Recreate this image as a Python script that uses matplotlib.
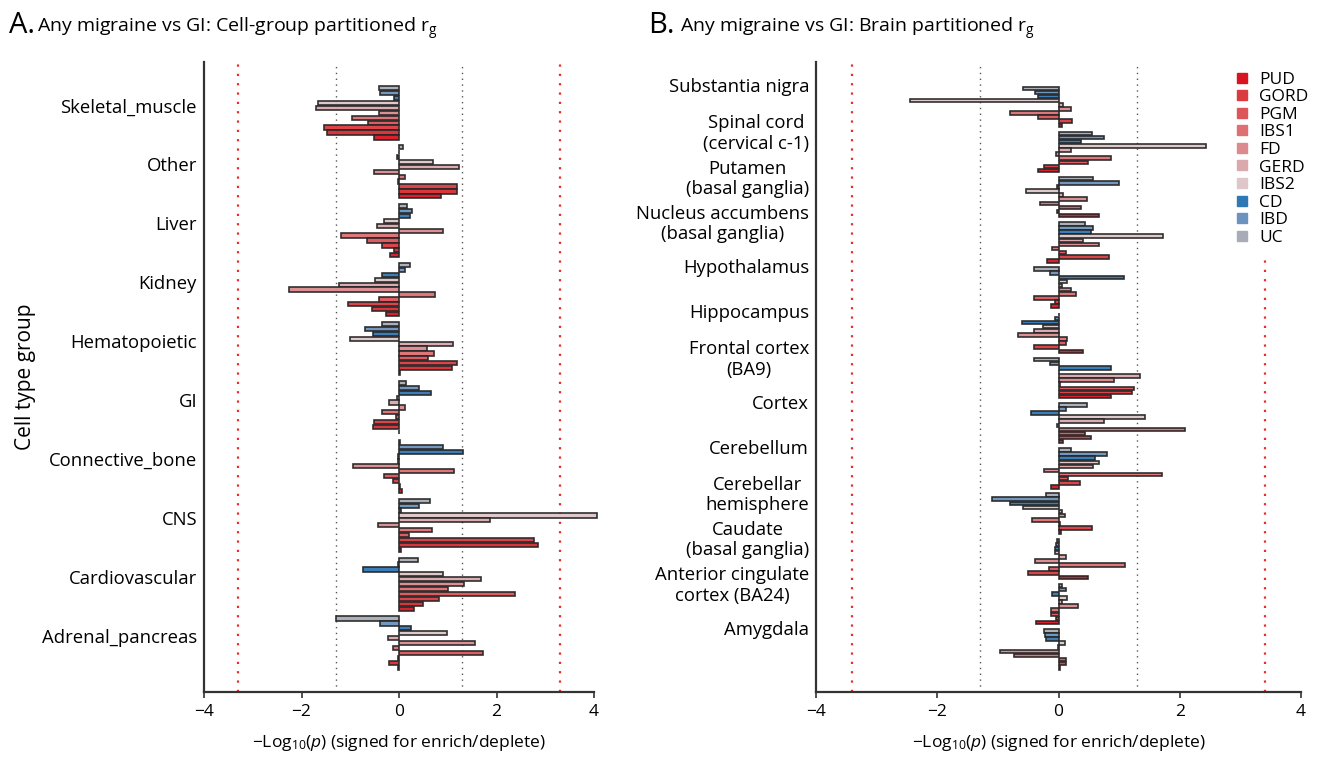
import matplotlib
matplotlib.use('Agg')
import matplotlib.pyplot as plt
from matplotlib.lines import Line2D
import numpy as np

plt.rcParams['font.family'] = ['Open Sans', 'DejaVu Sans']
plt.rcParams['mathtext.fontset'] = 'custom'
plt.rcParams['mathtext.rm'] = 'Open Sans'
plt.rcParams['mathtext.it'] = 'Open Sans:italic'

# ---- Panel A: cell-type groups (top to bottom) ----
groups_a = ['Skeletal_muscle', 'Other', 'Liver', 'Kidney', 'Hematopoietic', 'GI',
            'Connective_bone', 'CNS', 'Cardiovascular', 'Adrenal_pancreas']

a_uc   = [-0.41, 0.08, 0.17, 0.23, -0.35, 0.15, 0.02, 0.63, 0.38, -1.29]
a_ibd  = [-0.39, 0.01, 0.27, 0.12, -0.70, 0.40, 0.90, 0.41, -0.02, -0.39]
a_cd   = [-0.10, -0.05, 0.23, -0.34, -0.53, 0.66, 1.31, 0.05, -0.74, 0.24]
a_ibs2 = [-1.67, 0.69, -0.30, -0.49, -1.00, -0.05, -0.02, 4.07, 0.91, 0.98]
a_gerd = [-1.71, 1.24, -0.45, -1.24, 1.11, -0.21, -0.03, 1.86, 1.68, -0.23]
a_fd   = [-0.41, -0.51, 0.90, -2.26, 0.58, 0.13, -0.95, -0.44, 1.33, 1.55]
a_ibs1 = [-0.96, 0.12, -1.18, 0.73, 0.71, -0.35, 1.12, 0.67, 1.01, -0.12]
a_pgm  = [-0.64, -0.03, -0.66, -0.42, 0.59, -0.06, -0.30, 0.20, 2.37, 1.73]
a_gord = [-1.53, 1.18, -0.34, -1.05, 1.18, -0.51, -0.12, 2.76, 0.83, -0.03]
a_gord2 = [-1.48, 1.18, -0.10, -0.55, 1.08, -0.53, 0.03, 2.86, 0.50, -0.21]
a_pud  = [-0.51, 0.86, -0.19, -0.26, 0.02, 0.01, 0.06, 0.05, 0.31, -0.02]

# ---- Panel B: brain regions (top to bottom) ----
groups_b = ['Substantia nigra', 'Spinal cord\n(cervical c-1)', 'Putamen\n(basal ganglia)',
            'Nucleus accumbens\n(basal ganglia)', 'Hypothalamus', 'Hippocampus',
            'Frontal cortex\n(BA9)', 'Cortex', 'Cerebellum', 'Cerebellar\nhemisphere',
            'Caudate\n(basal ganglia)', 'Anterior cingulate\ncortex (BA24)', 'Amygdala']

b_uc   = [-0.58, 0.56, 0.57, 0.44, -0.41, 0.01, -0.41, 0.47, 0.20, -0.20, -0.02, 0.05, -0.24]
b_ibd  = [-0.38, 0.75, 0.99, 0.57, -0.14, -0.05, -0.14, 0.13, 0.80, -1.09, -0.04, 0.13, -0.22]
b_cd   = [-0.34, 0.37, -0.03, 0.53, 1.08, -0.61, 0.87, -0.46, 0.60, -0.80, -0.05, -0.10, -0.21]
b_ibs2 = [-2.45, 2.43, -0.54, 1.73, 0.14, -0.26, 0.01, 1.42, 0.67, -0.59, -0.06, 0.14, 0.11]
b_gerd = [0.08, 0.20, 0.08, 0.41, 0.05, -0.41, 1.34, 0.75, 0.57, 0.05, 0.12, 0.05, -0.01]
b_fd   = [0.20, -0.04, 0.47, 0.66, 0.20, -0.66, 0.91, -0.03, -0.24, 0.10, -0.38, 0.32, -0.96]
b_ibs1 = [-0.80, 0.87, -0.31, -0.10, 0.29, 0.14, 0.02, 2.08, 1.71, -0.43, 1.10, -0.12, -0.73]
b_pgm  = [-0.34, 0.48, 0.37, 0.12, -0.41, 0.13, 1.24, 0.43, 0.16, 0.02, -0.16, -0.12, 0.12]
b_gord = [0.22, -0.24, -0.02, 0.84, -0.06, -0.41, 1.22, 0.54, 0.35, 0.55, -0.50, -0.04, 0.13]
b_pud  = [0.05, -0.34, 0.67, -0.19, -0.13, 0.40, 0.86, 0.07, -0.13, 0.04, 0.49, -0.37, 0.03]

legend_names = ['PUD', 'GORD', 'PGM', 'IBS1', 'FD', 'GERD', 'IBS2', 'CD', 'IBD', 'UC']
colors = {'PUD': '#d7141f', 'GORD2': '#d92a31', 'GORD': '#db3a40', 'PGM': '#dd5459',
          'IBS1': '#de6f73', 'FD': '#dc8a8e', 'GERD': '#dba8ac', 'IBS2': '#dec6c9',
          'CD': '#2f78b6', 'IBD': '#6b93bd', 'UC': '#a7acb6'}

# series order top -> bottom inside each group
series_a = [('UC', a_uc), ('IBD', a_ibd), ('CD', a_cd), ('IBS2', a_ibs2), ('GERD', a_gerd),
            ('FD', a_fd), ('IBS1', a_ibs1), ('PGM', a_pgm), ('GORD', a_gord),
            ('GORD2', a_gord2), ('PUD', a_pud)]
series_b = [('UC', b_uc), ('IBD', b_ibd), ('CD', b_cd), ('IBS2', b_ibs2), ('GERD', b_gerd),
            ('FD', b_fd), ('IBS1', b_ibs1), ('PGM', b_pgm), ('GORD', b_gord), ('PUD', b_pud)]

fig = plt.figure(figsize=(13.22, 7.59), dpi=100)
ax_a = fig.add_axes([204 / 1322, 1 - 692 / 759, 390 / 1322, 630 / 759])
ax_b = fig.add_axes([816 / 1322, 1 - 692 / 759, 485 / 1322, 630 / 759])


def draw_panel(ax, series, groups, step, ylim, label_off, bonf):
    n = len(groups)
    base = np.arange(n) * step
    for j, (name, vals) in enumerate(series):
        bars = ax.barh(base + j, vals, height=0.86, color=colors[name], alpha=0.95,
                       edgecolor='#262626', linewidth=1.2, zorder=3)
        for b in bars:
            b.set_clip_on(False)
    for x in (-bonf, bonf):
        ax.axvline(x, color='#ee2a2a', linestyle=(0, (1, 3.2)), linewidth=1.6, zorder=1)
    for x in (-1.301, 1.301):
        ax.axvline(x, color='#555555', linestyle=(0, (1, 3.2)), linewidth=1.0, zorder=1)
    ax.set_xlim(-4, 4)
    ax.set_ylim(*ylim)
    ax.set_xticks([-4, -2, 0, 2, 4])
    ax.set_xticklabels(['\u22124', '\u22122', '0', '2', '4'])
    ax.set_yticks(base + label_off)
    ax.set_yticklabels(groups, fontsize=13.3, multialignment='center', linespacing=1.15)
    ax.tick_params(axis='y', length=0, pad=5)
    ax.tick_params(axis='x', labelsize=12.5, length=4, width=1.2, color='#333333', pad=5)
    for s in ('top', 'right'):
        ax.spines[s].set_visible(False)
    for s in ('left', 'bottom'):
        ax.spines[s].set_color('#333333')
        ax.spines[s].set_linewidth(1.6)
    ax.set_xlabel('\u2212Log$_{10}$($\\mathit{p}$) (signed for enrich/deplete)', fontsize=12.5, labelpad=9)


draw_panel(ax_a, series_a, groups_a, 12, (122.96, -5.36), 3.5, 3.30)
draw_panel(ax_b, series_b, groups_b, 11, (146.9, -6.4), -0.75, 3.41)
ax_a.set_ylabel('Cell type group', fontsize=15, labelpad=4)

# titles
fig.text(9 / 1322, 1 - 33 / 759, 'A.', fontsize=21)
fig.text(37 / 1322, 1 - 33 / 759, 'Any migraine vs GI: Cell-group partitioned r$_{\\mathrm{g}}$', fontsize=14)
fig.text(648 / 1322, 1 - 33 / 759, 'B.', fontsize=21)
fig.text(680 / 1322, 1 - 33 / 759, 'Any migraine vs GI: Brain partitioned r$_{\\mathrm{g}}$', fontsize=14)

# legend sits on a white box that hides the top of the right-hand threshold line
handles = [Line2D([0], [0], marker='s', linestyle='', markersize=7,
                  markerfacecolor=colors[n], markeredgecolor=colors[n]) for n in legend_names]
leg = ax_b.legend(handles, legend_names, loc='upper left', bbox_to_anchor=(1215 / 1322, 1 - 50 / 759),
                  bbox_transform=fig.transFigure, frameon=True, fontsize=12.5,
                  handlelength=0.6, handletextpad=0.7, labelspacing=0.08, borderpad=0.75,
                  fancybox=False, framealpha=1)
leg.get_frame().set_facecolor('white')
leg.get_frame().set_edgecolor('none')
leg.set_zorder(10)

fig.savefig('out.png', dpi=100)
